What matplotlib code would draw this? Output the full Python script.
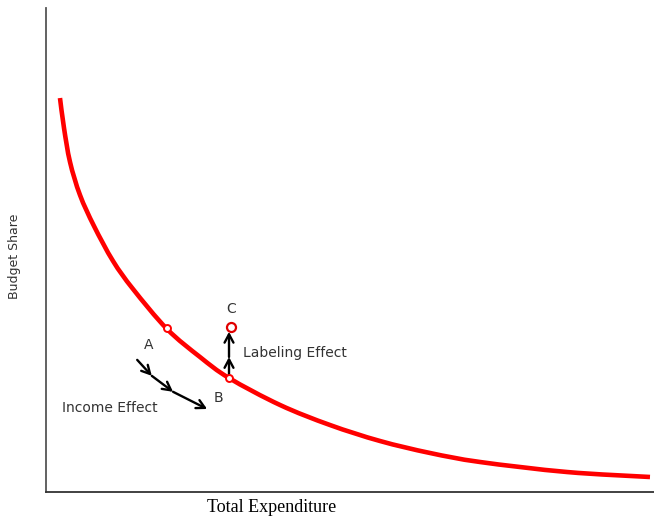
import matplotlib
matplotlib.use("Agg")
import matplotlib.pyplot as plt
from matplotlib.path import Path
from matplotlib.patches import PathPatch

# Curve (arbitrary units, axes 0..10)
curve_x = [0.230, 0.296, 0.395, 0.559, 0.789, 1.102, 1.431, 1.990, 2.533, 3.010, 3.849, 4.671, 5.493, 6.316, 7.138, 8.569, 9.934]
curve_y = [8.140, 7.521, 6.818, 6.136, 5.496, 4.773, 4.194, 3.368, 2.789, 2.355, 1.798, 1.384, 1.054, 0.806, 0.620, 0.413, 0.310]

points = {"A": (1.99, 3.39), "B": (3.01, 2.355), "C": (3.04, 3.41)}
point_labels = {"A": (1.68, 3.04), "B": (2.83, 1.94), "C": (3.04, 3.78)}

labeling_path_x = [3.01, 3.01, 3.01]
labeling_path_y = [2.355, 2.79, 3.31]
income_path_x = [1.50, 1.74, 2.09, 2.65]
income_path_y = [2.73, 2.40, 2.07, 1.715]


def smooth_path(xs, ys):
    """Catmull-Rom curve through the given points, as Bezier segments."""
    pts = list(zip(xs, ys))
    verts = [pts[0]]
    codes = [Path.MOVETO]
    n = len(pts)
    for i in range(n - 1):
        p0 = pts[i - 1] if i > 0 else pts[i]
        p1 = pts[i]
        p2 = pts[i + 1]
        p3 = pts[i + 2] if i + 2 < n else pts[i + 1]
        c1 = (p1[0] + (p2[0] - p0[0]) / 6, p1[1] + (p2[1] - p0[1]) / 6)
        c2 = (p2[0] - (p3[0] - p1[0]) / 6, p2[1] - (p3[1] - p1[1]) / 6)
        verts += [c1, c2, p2]
        codes += [Path.CURVE4] * 3
    return Path(verts, codes)


fig = plt.figure(figsize=(6.54, 5.18), dpi=100)
ax = fig.add_axes([46/654, 26/518, 608/654, 484/518])
ax.set_xlim(0, 10)
ax.set_ylim(0, 10)

ax.add_patch(PathPatch(smooth_path(curve_x, curve_y), fill=False, edgecolor="#ff0000",
                       lw=3.3, capstyle="butt", zorder=2))

for k in ["A", "B"]:
    ax.plot(*points[k], marker="o", ms=5, mfc="white", mec="#ff0000", mew=1.4, zorder=5)
ax.plot(*points["C"], marker="o", ms=6.5, mfc="white", mec="#e00000", mew=1.6, zorder=5)

txt = "#333333"
for k, (tx, ty) in point_labels.items():
    ax.text(tx, ty, k, ha="center", va="center", fontsize=10, color=txt)

arrow_kw = dict(arrowstyle="->,head_length=0.6,head_width=0.32", color="black", lw=1.7,
                shrinkA=0, shrinkB=0)
for i in range(len(labeling_path_x) - 1):
    ax.annotate("", xy=(labeling_path_x[i+1], labeling_path_y[i+1]),
                xytext=(labeling_path_x[i], labeling_path_y[i]), arrowprops=arrow_kw, zorder=3)
for i in range(len(income_path_x) - 1):
    ax.annotate("", xy=(income_path_x[i+1], income_path_y[i+1]),
                xytext=(income_path_x[i], income_path_y[i]), arrowprops=arrow_kw, zorder=3)

ax.text(3.24, 2.87, "Labeling Effect", ha="left", va="center", fontsize=10, color=txt)
ax.text(0.26, 1.74, "Income Effect", ha="left", va="center", fontsize=10, color=txt)

for s in ["top", "right"]:
    ax.spines[s].set_visible(False)
ax.spines["left"].set_color("#555555")
ax.spines["bottom"].set_color("#333333")
ax.spines["left"].set_linewidth(1.3)
ax.spines["bottom"].set_linewidth(1.3)
ax.set_xticks([])
ax.set_yticks([])

fig.text(272/654, 1 - 508/518, "Total Expenditure", ha="center", va="center",
         fontsize=13, family="Liberation Serif", color="black")
fig.text(15/654, 1 - 256/518, "Budget Share", ha="center", va="center", rotation=90,
         fontsize=9, color=txt)

fig.savefig("out.png", dpi=100)
